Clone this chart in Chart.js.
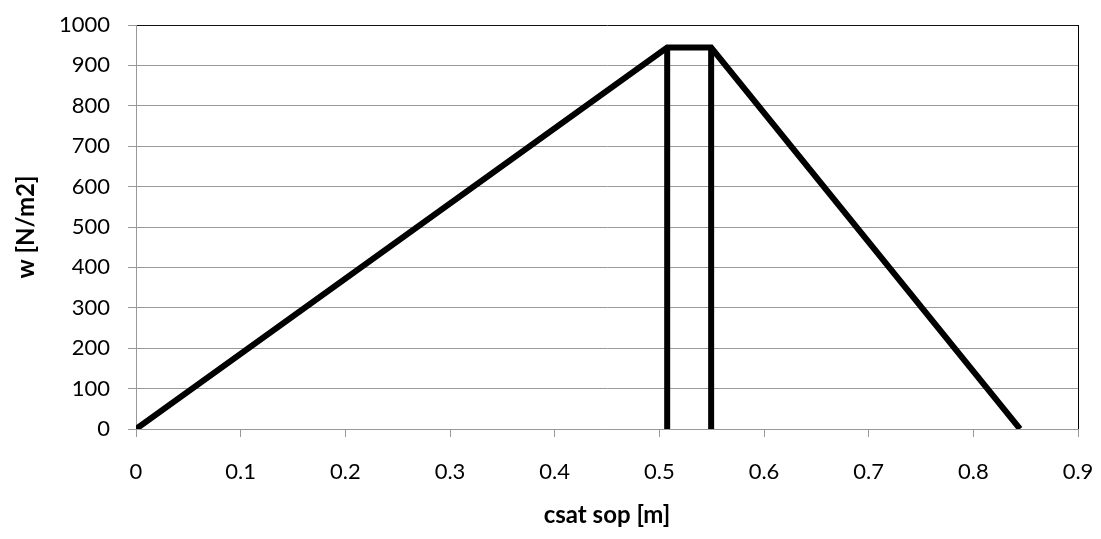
<!DOCTYPE html>
<html>
<head>
<meta charset="utf-8">
<script src="https://cdn.jsdelivr.net/npm/chart.js@4/dist/chart.umd.min.js"></script>
<style>
html,body{margin:0;padding:0;background:#fff;}
#wrap{width:1101px;height:539px;position:relative;}
</style>
</head>
<body>
<div id="wrap"><canvas id="c" width="1101" height="539"></canvas></div>
<script>
// Data: outline of the load diagram and the two vertical posts
const outlineX = [0, 0.5075, 0.5495, 0.8446];
const outlineY = [0, 944, 944, 0];
const leftPostX = [0.5075, 0.5075];
const leftPostY = [0, 944];
const rightPostX = [0.5495, 0.5495];
const rightPostY = [0, 944];
const xTickLabels = [0, 0.1, 0.2, 0.3, 0.4, 0.5, 0.6, 0.7, 0.8, 0.9];
const yTickLabels = [0, 100, 200, 300, 400, 500, 600, 700, 800, 900, 1000];
const xTitle = 'csat sop [m]';
const yTitle = 'w [N/m2]';

const toPts = (xs, ys) => xs.map((x, i) => ({ x: x, y: ys[i] }));
const FONT = 'Lato';
const lineStyle = {
  showLine: true,
  borderColor: '#000',
  borderWidth: 6,
  pointRadius: 0,
  pointHoverRadius: 0,
  fill: false,
  tension: 0,
  borderJoinStyle: 'miter',
  borderCapStyle: 'butt'
};

new Chart(document.getElementById('c'), {
  type: 'scatter',
  data: {
    datasets: [
      Object.assign({ data: toPts(leftPostX, leftPostY) }, lineStyle),
      Object.assign({ data: toPts(rightPostX, rightPostY) }, lineStyle),
      Object.assign({ data: toPts(outlineX, outlineY) }, lineStyle)
    ]
  },
  options: {
    responsive: false,
    animation: false,
    events: [],
    layout: { padding: { left: 0, right: 23, top: 25, bottom: 0 } },
    plugins: { legend: { display: false }, tooltip: { enabled: false } },
    scales: {
      x: {
        type: 'linear',
        min: 0, max: 0.9,
        afterBuildTicks: (s) => { s.ticks = xTickLabels.map(v => ({ value: v })); },
        afterFit: (s) => { s.height = 110; s.paddingLeft = 0; s.paddingRight = 0; },
        ticks: {
          color: '#000',
          font: { family: FONT, size: 22 },
          padding: 22,
          maxRotation: 0,
          autoSkip: false,
          callback: (v) => String(v)
        },
        grid: {
          drawOnChartArea: true,
          color: (ctx) => (ctx.tick && ctx.tick.value === 0.9) ? '#000' : 'rgba(0,0,0,0)',
          tickColor: '#999',
          tickLength: 8,
          lineWidth: 1
        },
        border: { display: true, color: '#999', width: 1 },
        title: {
          display: true,
          text: xTitle,
          color: '#000',
          font: { family: FONT, size: 24, weight: 'bold' },
          padding: { top: 0, bottom: 9 }
        }
      },
      y: {
        type: 'linear',
        min: 0, max: 1000,
        afterBuildTicks: (s) => { s.ticks = yTickLabels.map(v => ({ value: v })); },
        afterFit: (s) => { s.width = 136; s.paddingTop = 0; s.paddingBottom = 0; },
        ticks: {
          color: '#000',
          font: { family: FONT, size: 22 },
          padding: 18,
          autoSkip: false,
          callback: (v) => String(v)
        },
        grid: {
          color: (ctx) => (ctx.tick && ctx.tick.value === 1000) ? '#111' : '#9a9a9a',
          tickColor: '#999',
          tickLength: 8,
          lineWidth: 1
        },
        border: { display: true, color: '#999', width: 1 },
        title: {
          display: true,
          text: yTitle,
          color: '#000',
          font: { family: FONT, size: 24, weight: 'bold' },
          padding: { top: 12, bottom: 0 }
        }
      }
    }
  }
});
</script>
</body>
</html>
